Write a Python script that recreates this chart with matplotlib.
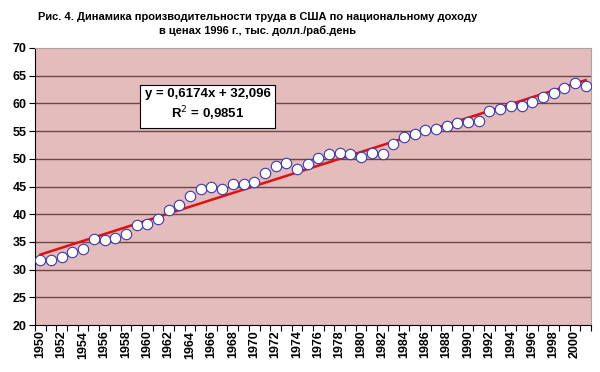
import matplotlib
matplotlib.use("Agg")
import matplotlib.pyplot as plt
import numpy as np

years = list(range(1950, 2002))
values = [31.8, 31.8, 32.2, 33.1, 33.8, 35.6, 35.3, 35.7, 36.4, 38.1,
          38.3, 39.2, 40.7, 41.7, 43.3, 44.5, 44.9, 44.6, 45.4, 45.5,
          45.8, 47.5, 48.7, 49.3, 48.1, 49.0, 50.2, 50.8, 51.0, 50.8,
          50.4, 51.0, 50.8, 52.7, 54.0, 54.4, 55.2, 55.4, 56.0, 56.4,
          56.7, 56.9, 58.7, 59.0, 59.6, 59.5, 60.3, 61.2, 61.9, 62.8,
          63.6, 63.2]
trend_slope = 0.6174
trend_intercept = 32.096
yticks = [20, 25, 30, 35, 40, 45, 50, 55, 60, 65, 70]
title = "Рис. 4. Динамика производительности труда в США по национальному доходу\nв ценах 1996 г., тыс. долл./раб.день"
eq_text = "y = 0,6174x + 32,096\nR$^2$ = 0,9851"

plt.rcParams['font.family'] = ['Liberation Sans', 'DejaVu Sans']

fig = plt.figure(figsize=(6.0, 3.72), dpi=100)
ax = fig.add_axes([35/600, 1-325/372, 556/600, 277/372])
ax.set_facecolor('#e4bcbc')

n = len(years)
x = np.arange(1, n + 1)
ax.set_xlim(0.5, n + 0.5)
ax.set_ylim(20, 70)

for yt in yticks[1:-1]:
    ax.axhline(yt, color='#6e4646', lw=1.0, zorder=1)

trend = trend_slope * x + trend_intercept
ax.plot(x, trend, color='#e01010', lw=1.8, zorder=2)
ax.plot(x, values, linestyle='none', marker='o', ms=7.5,
        markerfacecolor='white', markeredgecolor='#3a3ab0', markeredgewidth=0.8, zorder=3)

ax.set_yticks(yticks)
ax.set_yticklabels([str(v) for v in yticks], fontsize=9, fontweight='bold')
ax.set_xticks(x[::2])
ax.set_xticklabels([str(y) for y in years[::2]], rotation=90, fontsize=9, fontweight='bold')
ax.tick_params(axis='x', length=0, pad=4)
ax.set_xticks(np.arange(0.5, n + 1.0, 1.0), minor=True)
ax.tick_params(axis='x', which='minor', length=4, width=0.8, color='black', direction='out')
ax.tick_params(axis='y', length=4, width=0.8, direction='out', pad=2)

for side in ['top', 'right']:
    ax.spines[side].set_color('#b0a0a0')
    ax.spines[side].set_linewidth(0.8)
ax.spines['left'].set_color('black')
ax.spines['bottom'].set_color('black')
ax.spines['left'].set_linewidth(0.8)
ax.spines['bottom'].set_linewidth(0.8)

ax.text((207.5 - 35) / 556, 1 - (105.5 - 48) / 277, eq_text, transform=ax.transAxes,
        ha='center', va='center', fontsize=9.5, fontweight='bold',
        multialignment='center', linespacing=1.3,
        bbox=dict(boxstyle='square,pad=0.35', facecolor='white', edgecolor='black', lw=0.8),
        zorder=5)

fig.text(258 / 600, 1 - 24 / 372, title, ha='center', va='center', fontsize=8,
         fontweight='bold', linespacing=1.45)

fig.savefig('out.png', dpi=100)
